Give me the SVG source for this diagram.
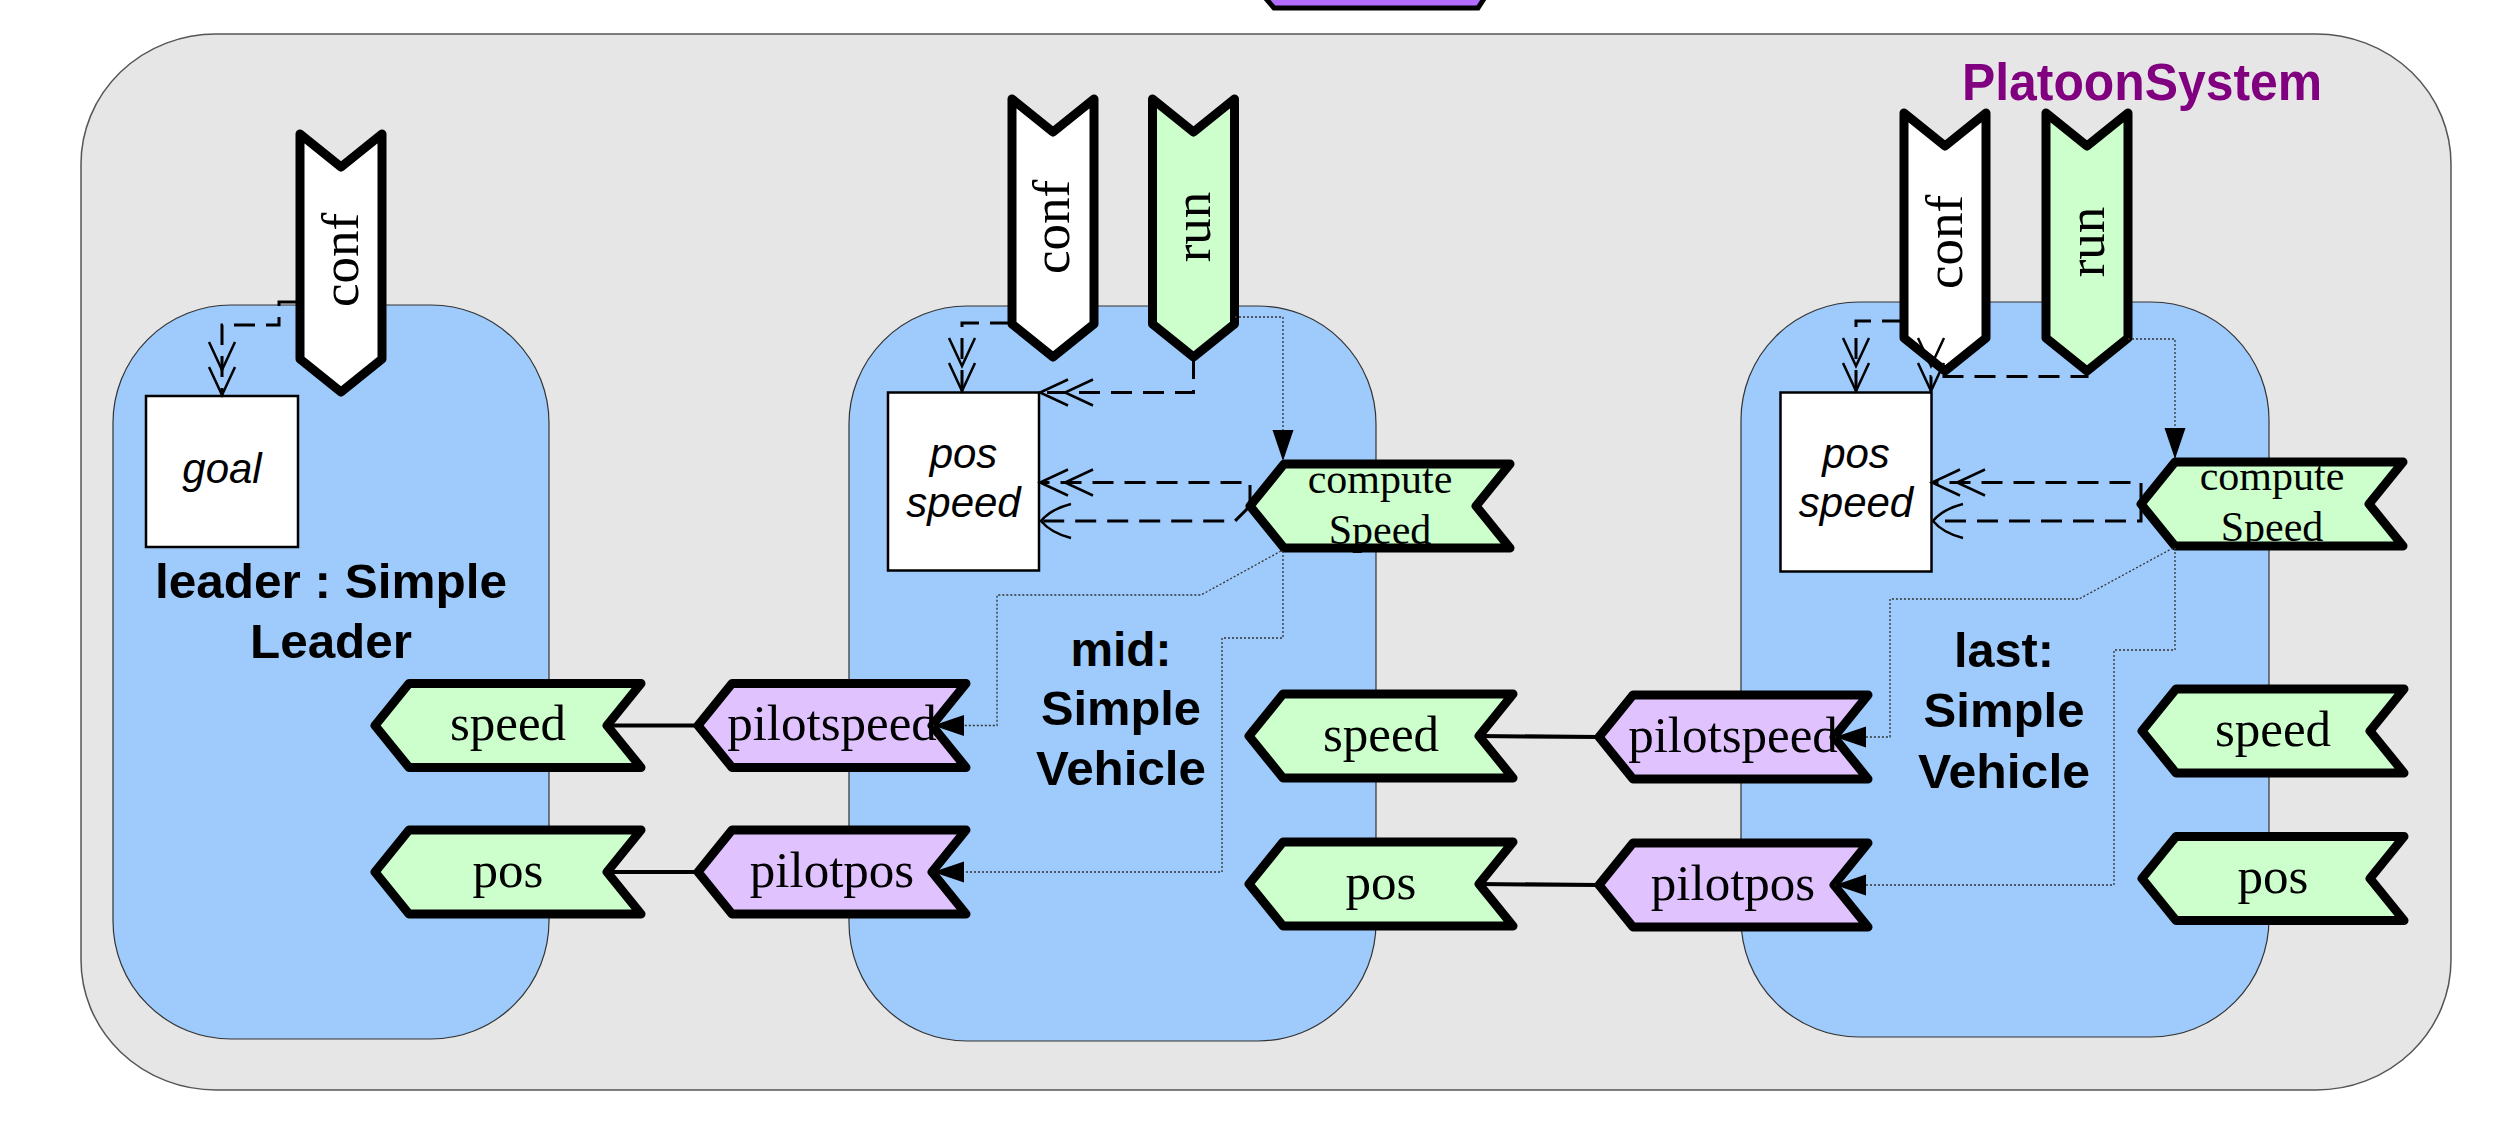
<svg xmlns="http://www.w3.org/2000/svg" width="2499" height="1127" viewBox="0 0 2499 1127">
<style>
.outer{fill:#e6e6e6;stroke:#555;stroke-width:1.5}
.comp{fill:#9ecbfb;stroke:#333;stroke-width:1.2}
.port{stroke:#000;stroke-width:9;stroke-linejoin:round}
.edge{fill:none;stroke:#000;stroke-width:9;stroke-linejoin:round}
.green{fill:#ccffcc}
.white{fill:#ffffff}
.purple{fill:#e0c2ff}
.data{fill:#fff;stroke:#000;stroke-width:2.5}
.serif{font-family:"Liberation Serif","Times New Roman",serif;font-size:51px;fill:#000;text-anchor:middle}
.vert{font-size:53px}
.small{font-size:42px}
.ital{font-family:"Liberation Sans",Arial,sans-serif;font-style:italic;font-size:42px;text-anchor:middle;fill:#000}
.bold{font-family:"Liberation Sans",Arial,sans-serif;font-weight:bold;font-size:48px;text-anchor:middle;fill:#000}
.title{font-family:"Liberation Sans",Arial,sans-serif;font-weight:bold;font-size:51px;text-anchor:middle;fill:#800080}
.dash{fill:none;stroke:#000;stroke-width:3;stroke-dasharray:21 11}
.dot{fill:none;stroke:#333;stroke-width:1.3;stroke-dasharray:2 2}
.link{stroke:#000;stroke-width:4}
</style>
<defs>
<marker id="dv" markerUnits="userSpaceOnUse" viewBox="-60 -20 64 40" markerWidth="64" markerHeight="40" refX="0" refY="0" orient="auto">
<path d="M-28,-13 L0,0 L-28,13 M-53,-13 L-25,0 L-53,13" fill="none" stroke="#000" stroke-width="2.5"/>
</marker>
<marker id="tri" markerUnits="userSpaceOnUse" viewBox="-34 -14 36 28" markerWidth="36" markerHeight="28" refX="0" refY="0" orient="auto">
<path d="M-31,-10.5 L0,0 L-31,10.5 z" fill="#000"/>
</marker>
<marker id="cv" markerUnits="userSpaceOnUse" viewBox="-36 -22 40 44" markerWidth="40" markerHeight="44" refX="0" refY="0" orient="auto">
<path d="M-30,-17 Q-10,-12 0,0 Q-10,12 -30,17" fill="none" stroke="#000" stroke-width="2.5"/>
</marker>
</defs>

<rect width="2499" height="1127" fill="#fff"/>
<polygon points="1262,-6 1274,8 1478,8 1487,-6" fill="#b26cff" stroke="#000" stroke-width="5"/>

<g id="PlatoonSystem">
<rect class="outer" x="81" y="34" width="2370" height="1056" rx="135" ry="130"/>
<text class="title" x="2142" y="100" textLength="360" lengthAdjust="spacingAndGlyphs">PlatoonSystem</text>
</g>

<g id="leader">
<rect class="comp" x="113" y="305" width="436" height="734" rx="118" ry="118"/>
<text class="bold" x="331" y="598" textLength="352" lengthAdjust="spacingAndGlyphs">leader : Simple</text>
<text class="bold" x="331" y="658" textLength="162" lengthAdjust="spacingAndGlyphs">Leader</text>
</g>
<g id="mid">
<rect class="comp" x="849" y="306" width="527" height="735" rx="118" ry="118"/>
<text class="bold" x="1121" y="666" textLength="101" lengthAdjust="spacingAndGlyphs">mid:</text>
<text class="bold" x="1121" y="725" textLength="160" lengthAdjust="spacingAndGlyphs">Simple</text>
<text class="bold" x="1121" y="785" textLength="170" lengthAdjust="spacingAndGlyphs">Vehicle</text>
</g>
<g id="last">
<rect class="comp" x="1741" y="302" width="528" height="735" rx="118" ry="118"/>
<text class="bold" x="2004" y="667" textLength="100" lengthAdjust="spacingAndGlyphs">last:</text>
<text class="bold" x="2004" y="727" textLength="161" lengthAdjust="spacingAndGlyphs">Simple</text>
<text class="bold" x="2004" y="788" textLength="172" lengthAdjust="spacingAndGlyphs">Vehicle</text>
</g>

<g id="leader-goal">
<rect class="data" x="146" y="396" width="152" height="151"/>
<text class="ital" x="222" y="483">goal</text>
</g>
<g id="mid-posspeed">
<rect class="data" x="888" y="392.5" width="151" height="178"/>
<text class="ital" x="963.5" y="468">pos</text>
<text class="ital" x="963.5" y="517">speed</text>
</g>
<g id="last-posspeed">
<rect class="data" x="1780.5" y="392.5" width="151" height="179"/>
<text class="ital" x="1856" y="468">pos</text>
<text class="ital" x="1856" y="517">speed</text>
</g>

<g id="leader-conf">
<polygon class="port white" points="300,134 341,167 382,134 382,359 341,392 300,359"/>
<text class="serif vert" transform="translate(358,260) rotate(-90)">conf</text>
</g>
<g id="mid-conf">
<polygon class="port white" points="1012,99 1053,132 1094,99 1094,324 1053,357 1012,324"/>
<text class="serif vert" transform="translate(1069,227) rotate(-90)">conf</text>
</g>
<g id="mid-run">
<polygon class="port green" points="1152.5,99 1193.5,132 1234.5,99 1234.5,324 1193.5,357 1152.5,324"/>
<text class="serif vert" transform="translate(1210,227) rotate(-90)">run</text>
</g>
<g id="last-conf">
<polygon class="port white" points="1904,113 1945,146 1986,113 1986,338 1945,371 1904,338"/>
<text class="serif vert" transform="translate(1962,242) rotate(-90)">conf</text>
</g>
<g id="last-run">
<polygon class="port green" points="2046,113 2087,146 2128,113 2128,338 2087,371 2046,338"/>
<text class="serif vert" transform="translate(2104,242) rotate(-90)">run</text>
</g>

<g id="leader-speed">
<polygon class="port green" points="409,683.5 641,683.5 607,725.5 641,767.5 409,767.5 375,725.5"/>
<text class="serif" x="508" y="740">speed</text>
</g>
<g id="leader-pos">
<polygon class="port green" points="409,830 641,830 607,872 641,914 409,914 375,872"/>
<text class="serif" x="508" y="886.5">pos</text>
</g>
<g id="mid-pilotspeed">
<polygon class="port purple" points="732,683.5 966,683.5 932,725.5 966,767.5 732,767.5 698,725.5"/>
<text class="serif" x="832" y="740">pilotspeed</text>
</g>
<g id="mid-pilotpos">
<polygon class="port purple" points="732,830 966,830 932,872 966,914 732,914 698,872"/>
<text class="serif" x="832" y="886.5">pilotpos</text>
</g>
<g id="mid-computeSpeed">
<polygon class="green" points="1284,464 1510,464 1476,506 1510,548 1284,548 1250,506"/>
<text class="serif small" x="1380" y="493">compute</text>
<text class="serif small" x="1380" y="544">Speed</text>
<polygon class="edge" points="1284,464 1510,464 1476,506 1510,548 1284,548 1250,506"/>
</g>
<g id="mid-speed">
<polygon class="port green" points="1283,694 1513,694 1479,736 1513,778 1283,778 1249,736"/>
<text class="serif" x="1381" y="750.5">speed</text>
</g>
<g id="mid-pos">
<polygon class="port green" points="1283,842 1513,842 1479,884 1513,926 1283,926 1249,884"/>
<text class="serif" x="1381" y="898.5">pos</text>
</g>
<g id="last-pilotspeed">
<polygon class="port purple" points="1633,695 1868,695 1834,737 1868,779 1633,779 1599,737"/>
<text class="serif" x="1733" y="751.5">pilotspeed</text>
</g>
<g id="last-pilotpos">
<polygon class="port purple" points="1633,843 1868,843 1834,885 1868,927 1633,927 1599,885"/>
<text class="serif" x="1733" y="899.5">pilotpos</text>
</g>
<g id="last-computeSpeed">
<polygon class="green" points="2175,462 2403,462 2369,504 2403,546 2175,546 2141,504"/>
<text class="serif small" x="2272" y="490">compute</text>
<text class="serif small" x="2272" y="541">Speed</text>
<polygon class="edge" points="2175,462 2403,462 2369,504 2403,546 2175,546 2141,504"/>
</g>
<g id="last-speed">
<polygon class="port green" points="2176,689 2404,689 2370,731 2404,773 2176,773 2142,731"/>
<text class="serif" x="2273" y="745.5">speed</text>
</g>
<g id="last-pos">
<polygon class="port green" points="2176,836.5 2404,836.5 2370,878.5 2404,920.5 2176,920.5 2142,878.5"/>
<text class="serif" x="2273" y="893">pos</text>
</g>

<g id="connectors">
<line class="link" x1="607" y1="725.5" x2="698" y2="725.5"/>
<line class="link" x1="607" y1="872" x2="698" y2="872"/>
<line class="link" x1="1479" y1="736" x2="1599" y2="737"/>
<line class="link" x1="1479" y1="884" x2="1599" y2="885"/>

<path class="dash" d="M296,302 H279 V325 H222 V395" marker-end="url(#dv)"/>
<path class="dash" d="M1011,323 H962 V391" marker-end="url(#dv)"/>
<path class="dash" d="M1193.5,358 V392.5 H1040" marker-end="url(#dv)"/>
<path class="dash" d="M1250,506 V482.5 H1040" marker-end="url(#dv)"/>
<path class="dash" d="M1250,506 L1235,521 H1041" marker-end="url(#cv)"/>
<path class="dash" d="M1903,321 H1856 V391" marker-end="url(#dv)"/>
<path class="dash" d="M2087,372 V376.5 H1931 V391" marker-end="url(#dv)"/>
<path class="dash" d="M2141,504 V482.5 H1932" marker-end="url(#dv)"/>
<path class="dash" d="M2141,504 V521 H1933" marker-end="url(#cv)"/>

<path class="dot" d="M1235,317 H1283 V461" marker-end="url(#tri)"/>
<path class="dot" d="M2128,339 H2175 V459" marker-end="url(#tri)"/>
<path class="dot" d="M1281,551 L1201,595 H997 V725.5 H933" marker-end="url(#tri)"/>
<path class="dot" d="M1283,551 V638 H1222 V872 H933" marker-end="url(#tri)"/>
<path class="dot" d="M2173,548 L2079,599 H1890 V737 H1835" marker-end="url(#tri)"/>
<path class="dot" d="M2175,548 V650 H2114 V885 H1835" marker-end="url(#tri)"/>
</g>
</svg>
